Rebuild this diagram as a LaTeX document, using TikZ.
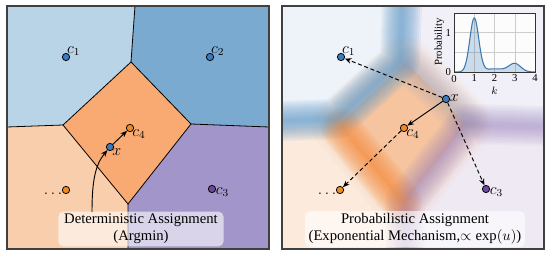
\documentclass[tikz,border=0pt]{standalone}
\usepackage{fontspec}
\setmainfont{Liberation Serif}
\usetikzlibrary{positioning,arrows.meta,calc}

\definecolor{cellone}{HTML}{B9D3E7}
\definecolor{celltwo}{HTML}{7BAAD0}
\definecolor{cellfour}{HTML}{F8AA72}
\definecolor{celldots}{HTML}{F9CEAC}
\definecolor{cellthree}{HTML}{A295C9}
\definecolor{dotblue}{HTML}{3B7BBE}
\definecolor{dotorange}{HTML}{F28A22}
\definecolor{dotpurple}{HTML}{6A4A9C}
\definecolor{softone}{HTML}{EEF3F9}
\definecolor{softtwo}{HTML}{F1EFF7}
\definecolor{softfour}{HTML}{F6C5A0}
\definecolor{softdots}{HTML}{FCEADC}
\definecolor{softthree}{HTML}{EFE9F4}
\definecolor{bandblue}{HTML}{5C97C6}
\definecolor{bandorange}{HTML}{F58A3A}
\definecolor{bandpurple}{HTML}{8A72B8}
\definecolor{curveblue}{HTML}{3D79B0}

\begin{document}
\begin{tikzpicture}[x=0.75pt, y=-0.75pt, >={Stealth[length=5pt,width=4pt]},
  centroid/.style={circle, draw=black, line width=0.6pt, inner sep=0pt, minimum size=5.5pt},
  clab/.style={font=\large, inner sep=0.5pt},
  caption/.style={fill=white, fill opacity=0.6, text opacity=1, rounded corners=4pt, align=center,
    font=\fontsize{11}{12.5}\selectfont, inner sep=2pt},
  cell/.style={draw=black, line width=0.6pt},
  frame/.style={draw=black!75, line width=0.8pt},
  band/.style={opacity=0.07, line join=round, line cap=round},
  link/.style={->, line width=0.7pt},
  dlink/.style={->, line width=0.7pt, dash pattern=on 3pt off 2pt},
  tick/.style={font=\fontsize{8}{9}\selectfont, inner sep=1pt}]

\useasboundingbox (0,0) rectangle (550,257);

\begin{scope}
  \clip (7,6) rectangle (269,249);
  \fill[cellone] (7,6) -- (135,6) -- (131,62) -- (63,125) -- (7,127) -- cycle;
  \fill[celltwo] (135,6) -- (269,6) -- (269,127) -- (191,124) -- (131,62) -- cycle;
  \fill[celldots] (7,127) -- (63,125) -- (128,204) -- (128,249) -- (7,249) -- cycle;
  \fill[cellthree] (191,124) -- (269,127) -- (269,249) -- (128,249) -- (128,204) -- cycle;
  \fill[cellfour] (131,62) -- (191,124) -- (128,204) -- (63,125) -- cycle;
  \draw[cell] (131,62) -- (191,124) -- (128,204) -- (63,125) -- cycle;
  \draw[cell] (131,62) -- (135,6) (63,125) -- (7,127) (191,124) -- (269,127) (128,204) -- (128,249);
\end{scope}
\draw[frame] (7,6) rectangle (269,249);

\node[centroid, fill=dotblue] (c1) at (66,57) {};
\node[centroid, fill=dotblue] (c2) at (210,57) {};
\node[centroid, fill=dotorange] (c4) at (130,128) {};
\node[centroid, fill=dotblue] (xpt) at (110,147) {};
\node[centroid, fill=dotorange] (cdots) at (66,190) {};
\node[centroid, fill=dotpurple] (c3) at (212,189) {};
\node[clab, above right=-2pt and -2pt of c1] (c1lab) {$c_1$};
\node[clab, above right=-2pt and -2pt of c2] (c2lab) {$c_2$};
\node[clab, below right=-2pt and -1pt of c4] (c4lab) {$c_4$};
\node[clab, below right=-2pt and -1pt of xpt] (xlab) {$x$};
\node[clab, below left=-1pt and 0pt of cdots] (dotslab) {$\dots$};
\node[clab, below right=-4pt and 0pt of c3] (c3lab) {$c_3$};
\draw[link] (xpt) -- (c4);

\node[caption, minimum width=124pt, minimum height=26pt] (detcap) at (141,229) {Deterministic Assignment\\(Argmin)};
\coordinate (tail) at (92,212);
\draw[link] (tail) .. controls (92,182) and (95,165) .. (xpt);

\begin{scope}
  \clip (282,6) rectangle (544,249);
  \fill[softone] (282,6) -- (410,6) -- (406,62) -- (338,125) -- (282,127) -- cycle;
  \fill[softtwo] (410,6) -- (544,6) -- (544,127) -- (466,124) -- (406,62) -- cycle;
  \fill[softdots] (282,127) -- (338,125) -- (403,204) -- (403,249) -- (282,249) -- cycle;
  \fill[softthree] (466,124) -- (544,127) -- (544,249) -- (403,249) -- (403,204) -- cycle;
  \fill[softfour] (406,62) -- (466,124) -- (403,204) -- (338,125) -- cycle;
  \foreach \w in {40,36,...,4} {
    \draw[band, softfour, line width=\w pt] (406,62) -- (466,124) -- (403,204) -- (338,125) -- cycle;
  }
  \foreach \w in {30,27,...,3} {
    \draw[band, bandblue, opacity=0.1, line width=\w pt] (402,6) -- (400,62) -- (337,119) -- (282,121);
    \draw[band, bandblue!60!bandpurple, opacity=0.03, line width=\w pt] (410,66) -- (468,121);
    \draw[band, bandorange, opacity=0.1, line width=\w pt] (341,128) -- (402,202);
    \draw[band, bandpurple, opacity=0.06, line width=\w pt] (544,126) -- (466,124) -- (405,202) -- (405,249);
  }
\end{scope}
\draw[frame] (282,6) rectangle (544,249);

\fill[white, opacity=0.85] (454,13) rectangle (535,72);
\begin{scope}[shift={(454,72)}, x=15.2pt, y=29.6pt]
  \draw[black!20, line width=0.4pt] (1,0) -- (1,1.49) (2,0) -- (2,1.49) (3,0) -- (3,1.49)
    (0,0.5) -- (4,0.5) (0,1) -- (4,1);
  \fill[curveblue, opacity=0.25] (0,0) -- plot[domain=0:4, samples=90, smooth]
    (\x, {1.36*exp(-((\x-1)^2)/0.097) + 0.21*exp(-((\x-3)^2)/0.17) + 0.08*exp(-((\x-2)^2)/0.5)}) -- (4,0) -- cycle;
  \draw[curveblue, line width=0.8pt] plot[domain=0:4, samples=90, smooth]
    (\x, {1.36*exp(-((\x-1)^2)/0.097) + 0.21*exp(-((\x-3)^2)/0.17) + 0.08*exp(-((\x-2)^2)/0.5)});
  \draw[black!80, line width=0.5pt] (0,0) rectangle (4,1.49);
  \foreach \k in {0,...,4} \node[tick, below=1pt] (xt\k) at (\k,0) {\k};
  \node[tick, left=1pt] (yt0) at (0,0) {0};
  \node[tick, left=1pt] (yt1) at (0,1) {1};
  \node[tick, below=10pt] (klab) at (2,0) {$k$};
  \node[tick, rotate=90] (plab) at (-0.72,0.76) {Probability};
\end{scope}

\node[centroid, fill=dotblue] (rc1) at (341,57) {};
\node[centroid, fill=dotblue] (rx) at (446,99) {};
\node[centroid, fill=dotorange] (rc4) at (404,128) {};
\node[centroid, fill=dotorange] (rcdots) at (340,190) {};
\node[centroid, fill=dotpurple] (rc3) at (486,189) {};
\node[clab, above right=-2pt and -2pt of rc1] (rc1lab) {$c_1$};
\node[clab, above right=-5pt and 0pt of rx] (rxlab) {$x$};
\node[clab, below right=-2pt and -1pt of rc4] (rc4lab) {$c_4$};
\node[clab, below left=-1pt and 0pt of rcdots] (rdotslab) {$\dots$};
\node[clab, below right=-4pt and 0pt of rc3] (rc3lab) {$c_3$};
\draw[dlink] (rx) -- (rc1);
\draw[link] (rx) -- (rc4);
\draw[dlink] (rx) -- (rc3);
\draw[dlink] (rc4) -- (rcdots);

\node[caption, minimum width=165pt, minimum height=27pt] (probcap) at (415,229) {Probabilistic Assignment\\(Exponential Mechanism,$\propto \exp(u)$)};
\end{tikzpicture}
\end{document}
